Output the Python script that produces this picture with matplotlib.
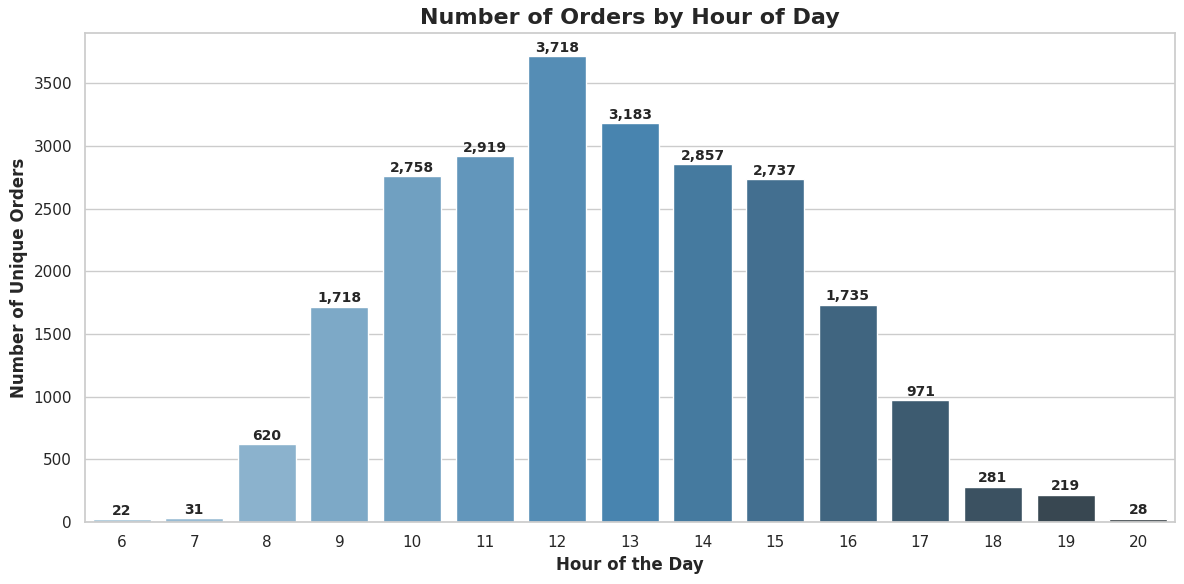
import matplotlib
matplotlib.use("Agg")
import matplotlib.pyplot as plt
import seaborn as sns

hours = [6, 7, 8, 9, 10, 11, 12, 13, 14, 15, 16, 17, 18, 19, 20]
orders = [22, 31, 620, 1718, 2758, 2919, 3718, 3183, 2857, 2737, 1735, 971, 281, 219, 28]

sns.set_theme(style="whitegrid")

fig, ax = plt.subplots(figsize=(11.84, 5.84), dpi=100)
hour_labels = [str(h) for h in hours]
sns.barplot(x=hour_labels, y=orders, hue=hour_labels, palette="Blues_d",
            legend=False, ax=ax)

# value labels on top of each bar
for i, v in enumerate(orders):
    ax.annotate(f"{v:,}", (i, v), xytext=(0, 1), textcoords="offset points",
                ha="center", va="bottom", fontsize=10, fontweight="bold",
                color=".15")

ax.set_title("Number of Orders by Hour of Day", fontsize=16, fontweight="bold",
             color=".15")
ax.set_xlabel("Hour of the Day", fontsize=12, fontweight="bold")
ax.set_ylabel("Number of Unique Orders", fontsize=12, fontweight="bold")
ax.set_ylim(0, max(orders) * 1.05)

fig.subplots_adjust(left=0.072, right=0.992, top=0.944, bottom=0.106)
plt.savefig("out.png", dpi=100)
